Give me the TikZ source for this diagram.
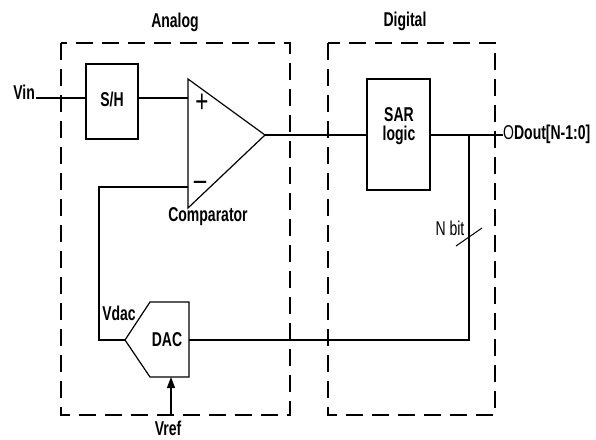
\documentclass[tikz,border=0pt]{standalone}
\usepackage{fontspec}
\setmainfont{Liberation Sans}[FakeStretch=0.7]
\usetikzlibrary{arrows.meta}
\tikzset{
  wire/.style={line width=1.2pt},
  blk/.style={draw, line width=1.2pt, inner sep=0pt},
  region/.style={line width=2.5pt, dash pattern=on 17pt off 9pt},
  lbl/.style={font=\bfseries\fontsize{20}{21}\selectfont, inner sep=0pt},
  lblr/.style={font=\fontsize{20}{21}\selectfont, inner sep=0pt},
}
\begin{document}
\begin{tikzpicture}[x=1pt,y=-1pt]
\useasboundingbox (0,0) rectangle (596,439);
% regions
\draw[region] (61,43) rectangle (290,415);
\draw[region] (328,43) rectangle (495,415);
\node[lbl] (analog) at (175,22) {Analog};
\node[lbl] (digital) at (405,21) {Digital};
% S/H
\node[blk, minimum width=52pt, minimum height=75pt] (sh) at (112,101.5) {};
\node[lbl] (shl) at (112,99) {S/H};
% Vin
\node[lbl, anchor=base east] (vin) at (35,99) {Vin};
\coordinate (vinend) at (36,98);
\draw[wire] (vinend) -- (vinend -| sh.west);
% comparator
\coordinate (cta) at (188,79);
\coordinate (ctip) at (265,135);
\coordinate (cbot) at (188,208);
\coordinate (cplus) at (188,98);
\coordinate (cminus) at (188,187);
\draw[wire, line join=miter] (cta) -- (ctip) -- (cbot) -- cycle;
\draw[wire] (sh.east |- cplus) -- (cplus);
\node[lblr, font=\fontsize{32}{32}\selectfont] (plus) at (202,103) {+};
\node[lblr, font=\fontsize{32}{32}\selectfont] (minus) at (200,186) {\textendash};
\node[lbl] (comp) at (208,217) {Comparator};
% DAC
\coordinate (dtip) at (125,340);
\coordinate (dtl) at (150,302);
\coordinate (dtr) at (189,302);
\coordinate (dbr) at (189,377);
\coordinate (dbl) at (150,377);
\coordinate (dacout) at (189,340);
\coordinate (dref) at (171,377);
\draw[wire, line join=miter] (dtip) -- (dtl) -- (dtr) -- (dbr) -- (dbl) -- cycle;
\node[lbl] (dacl) at (167,340) {DAC};
\node[lbl] (vdac) at (119,313) {Vdac};
\coordinate (fbk) at (99,187);
\draw[wire] (cminus) -- (fbk) |- (dtip);
% Vref
\coordinate (vrefbot) at (171,415);
\draw[wire, -{Triangle[length=11pt,width=8pt]}] (vrefbot) -- (dref);
\node[lbl] (vref) at (168,428) {Vref};
% SAR
\node[blk, minimum width=63pt, minimum height=111pt] (sar) at (398.5,134.5) {};
\node[lbl, align=center] (sarl) at (399,126) {SAR\\[-2pt]logic};
\draw[wire] (ctip) -- (ctip -| sar.west);
% output
\node[lblr, anchor=west] (doutl) at (503,134) {O\textbf{Dout[N-1:0]}};
\coordinate (junc) at (469,135);
\draw[wire] (sar.east |- junc) -- (doutl.west |- junc);
\coordinate (jdown) at (469,340);
\draw[wire] (junc) -- (jdown) -- (dacout);
% N bit
\node[lblr] (nbit) at (450,228) {N bit};
\coordinate (sl1) at (456,246);
\coordinate (sl2) at (482,228);
\draw[line width=1pt] (sl1) -- (sl2);
\end{tikzpicture}
\end{document}
